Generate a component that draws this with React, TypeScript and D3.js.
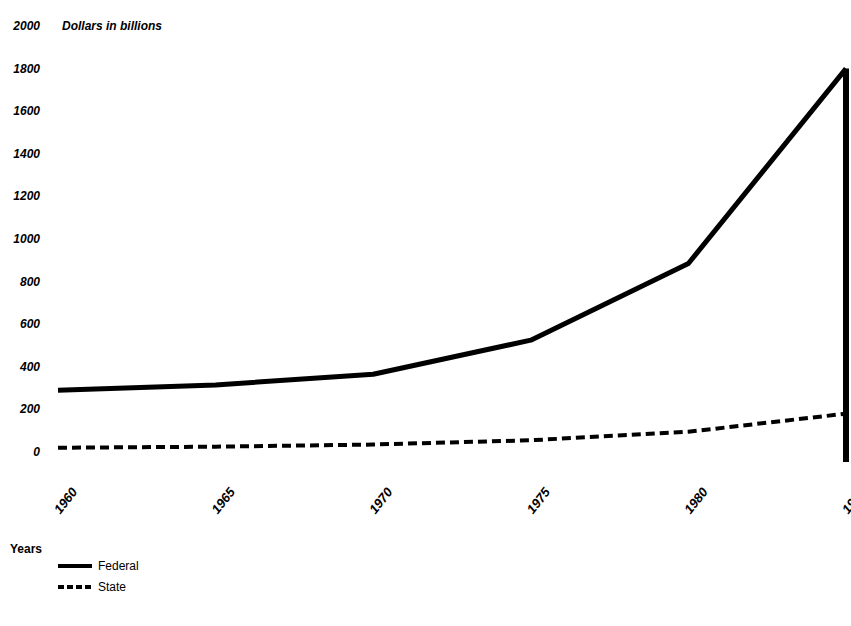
import * as d3 from 'd3'

const years = [1960, 1965, 1970, 1975, 1980, 1985]
const federal = [290, 315, 365, 525, 885, 1800]
const state = [20, 25, 35, 55, 95, 180]
const yTicks = [0, 200, 400, 600, 800, 1000, 1200, 1400, 1600, 1800, 2000]

export default function App() {
  const W = 851, H = 626
  const x = d3.scaleLinear().domain([1960, 1985]).range([58, 846])
  const y = d3.scaleLinear().domain([0, 2000]).range([452, 26])
  const line = d3.line<number>().x((_, i) => x(years[i])).y(d => y(d))
  const font = 'Liberation Sans, Arial, sans-serif'

  return (
    <svg width={W} height={H} style={{ position: 'absolute', left: 0, top: 0, background: '#fff' }} fontFamily={font}>
      {yTicks.map(t => (
        <text key={t} x={40} y={y(t) + 4} textAnchor="end" fontSize={12} fontWeight="bold" fontStyle="italic">{t}</text>
      ))}
      <text x={62} y={y(2000) + 4} fontSize={12} fontWeight="bold" fontStyle="italic">Dollars in billions</text>
      <path d={line(federal) ?? ''} fill="none" stroke="#000" strokeWidth={5} strokeLinejoin="round" />
      <path d={line(state) ?? ''} fill="none" stroke="#000" strokeWidth={4} strokeDasharray="9,5" />
      <line x1={x(1985)} x2={x(1985)} y1={y(1800)} y2={462} stroke="#000" strokeWidth={6} />
      {years.map(yr => (
        <text key={yr} transform={`translate(${x(yr) + 20},${492}) rotate(-52)`} textAnchor="end" fontSize={13} fontWeight="bold" fontStyle="italic">{yr}</text>
      ))}
      <text x={10} y={553} fontSize={12} fontWeight="bold">Years</text>
      <line x1={58} x2={92} y1={566} y2={566} stroke="#000" strokeWidth={4} />
      <text x={98} y={570} fontSize={12}>Federal</text>
      <line x1={58} x2={92} y1={587} y2={587} stroke="#000" strokeWidth={4} strokeDasharray="6,3" />
      <text x={98} y={591} fontSize={12}>State</text>
    </svg>
  )
}
